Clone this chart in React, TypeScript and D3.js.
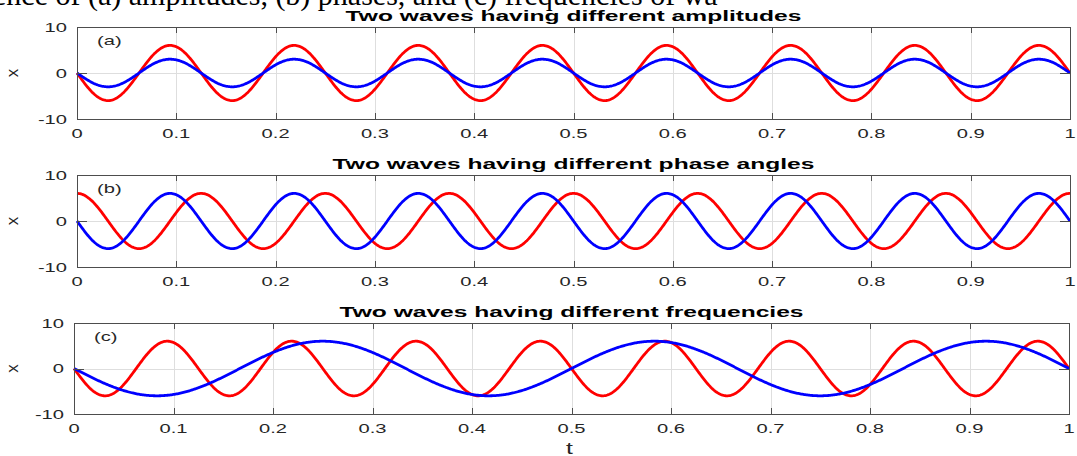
import React from 'react';
import * as d3 from 'd3';

// ---------- data ----------
const panelTitles = [
  'Two waves having different amplitudes',
  'Two waves having different phase angles',
  'Two waves having different frequencies',
];
const panelTags = ['(a)', '(b)', '(c)'];
const xTicks = [0, 0.1, 0.2, 0.3, 0.4, 0.5, 0.6, 0.7, 0.8, 0.9, 1];
const xTickLabels = ['0', '0.1', '0.2', '0.3', '0.4', '0.5', '0.6', '0.7', '0.8', '0.9', '1'];
const yTicks = [-10, 0, 10];
const yTickLabels = ['-10', '0', '10'];
// wave parameters: x = A * sin(2*pi*f*t + phase)
const redAmplitude = [6, 6, 6];
const redFrequency = [8, 8, 8];
const redPhaseDeg = [180, 90, 180];
const blueAmplitude = [3, 6, 6];
const blueFrequency = [8, 8, 3];
const bluePhaseDeg = [180, 180, 180];
const xLabel = 't';
const yLabel = 'x';
const captionText = 'ence of (a) amplitudes, (b) phases, and (c) frequencies of wa';

// ---------- layout ----------
const W = 1077;
const H = 456;
const panels = [
  { left: 77, right: 1070, top: 27, bottom: 119, titleY: 21 },
  { left: 77, right: 1070, top: 175, bottom: 267, titleY: 169 },
  { left: 74, right: 1069, top: 323, bottom: 414, titleY: 317 },
];
const SX = 1.55; // horizontal stretch of the picture
const FONT = '"Liberation Sans", Arial, Helvetica, sans-serif';

function SText(props: {
  x: number; y: number; sx?: number; anchor?: string; size: number;
  weight?: string | number; fill?: string; children: React.ReactNode;
}) {
  const { x, y, sx = SX, anchor = 'start', size, weight = 'normal', fill = '#262626', children } = props;
  return (
    <text
      transform={`translate(${x},${y}) scale(${sx},1)`}
      textAnchor={anchor}
      fontFamily={FONT}
      fontSize={size}
      fontWeight={weight}
      fill={fill}
    >
      {children}
    </text>
  );
}

const samples = d3.range(0, 1001).map((i) => i / 1000);

function wave(A: number, f: number, phDeg: number) {
  const ph = (phDeg * Math.PI) / 180;
  return samples.map((t) => [t, A * Math.sin(2 * Math.PI * f * t + ph)] as [number, number]);
}

function Panel({ idx }: { idx: number }) {
  const p = panels[idx];
  const x = d3.scaleLinear().domain([0, 1]).range([p.left, p.right]);
  const y = d3.scaleLinear().domain([-10, 10]).range([p.bottom, p.top]);
  const line = d3
    .line<[number, number]>()
    .x((d) => x(d[0]))
    .y((d) => y(d[1]));
  const red = wave(redAmplitude[idx], redFrequency[idx], redPhaseDeg[idx]);
  const blue = wave(blueAmplitude[idx], blueFrequency[idx], bluePhaseDeg[idx]);
  const cx = (p.left + p.right) / 2;
  const cy = (p.top + p.bottom) / 2;
  const axisColor = '#4d4d4d';
  return (
    <g>
      {/* grid */}
      <g stroke="#dedede" strokeWidth={1} shapeRendering="crispEdges">
        {xTicks.slice(1, -1).map((t) => (
          <line key={t} x1={Math.round(x(t)) + 0.5} x2={Math.round(x(t)) + 0.5} y1={p.top} y2={p.bottom} />
        ))}
        {yTicks.slice(1, -1).map((v) => (
          <line key={v} x1={p.left} x2={p.right} y1={Math.round(y(v)) + 0.5} y2={Math.round(y(v)) + 0.5} />
        ))}
      </g>
      {/* curves */}
      <path d={line(red) || ''} fill="none" stroke="#ff0000" strokeWidth={2.8} />
      <path d={line(blue) || ''} fill="none" stroke="#0000ff" strokeWidth={2.8} />
      {/* ticks */}
      <g stroke={axisColor} strokeWidth={1} shapeRendering="crispEdges">
        {xTicks.map((t) => (
          <g key={t}>
            <line x1={Math.round(x(t)) + 0.5} x2={Math.round(x(t)) + 0.5} y1={p.bottom} y2={p.bottom - 6} />
            <line x1={Math.round(x(t)) + 0.5} x2={Math.round(x(t)) + 0.5} y1={p.top} y2={p.top + 6} />
          </g>
        ))}
        {yTicks.map((v) => (
          <g key={v}>
            <line x1={p.left} x2={p.left + 10} y1={Math.round(y(v)) + 0.5} y2={Math.round(y(v)) + 0.5} />
            <line x1={p.right} x2={p.right - 10} y1={Math.round(y(v)) + 0.5} y2={Math.round(y(v)) + 0.5} />
          </g>
        ))}
        <rect
          x={p.left + 0.5}
          y={p.top + 0.5}
          width={p.right - p.left}
          height={p.bottom - p.top}
          fill="none"
        />
      </g>
      {/* tick labels */}
      {xTicks.map((t, i) => (
        <SText key={t} x={x(t)} y={p.bottom + 19} anchor="middle" size={13}>
          {xTickLabels[i]}
        </SText>
      ))}
      {yTicks.map((v, i) => (
        <SText key={v} x={p.left - 10} y={y(v) + 4.6} anchor="end" size={13}>
          {yTickLabels[i]}
        </SText>
      ))}
      {/* y label */}
      <text
        transform={`translate(18,${cy}) rotate(-90)`}
        textAnchor="middle"
        fontFamily={FONT}
        fontSize={17}
        fill="#262626"
      >
        {yLabel}
      </text>
      {/* tag */}
      <SText x={p.left + 20} y={p.top + 17.5} size={13} fill="#262626">
        {panelTags[idx]}
      </SText>
      {/* title */}
      <SText x={cx} y={p.titleY} anchor="middle" size={15} weight="bold" sx={1.64} fill="#000">
        {panelTitles[idx]}
      </SText>
    </g>
  );
}

export default function App() {
  const last = panels[2];
  return (
    <svg
      width={W}
      height={H}
      viewBox={`0 0 ${W} ${H}`}
      style={{ position: 'absolute', left: 0, top: 0, background: '#fff' }}
    >
      <rect x={0} y={0} width={W} height={H} fill="#fff" />
      <text x={-7} y={5} fontFamily='"Liberation Serif", "Times New Roman", serif' fontSize={30} fill="#000">
        {captionText}
      </text>
      {panels.map((_, i) => (
        <Panel key={i} idx={i} />
      ))}
      <SText x={(last.left + last.right) / 2 - 2} y={454} anchor="middle" size={16}>
        {xLabel}
      </SText>
    </svg>
  );
}
